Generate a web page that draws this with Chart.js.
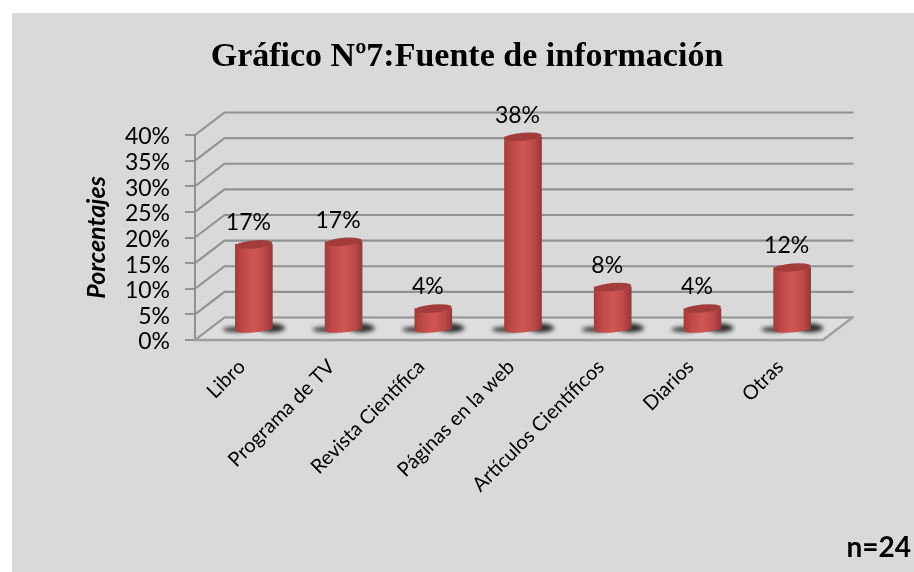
<!DOCTYPE html>
<html>
<head>
<meta charset="utf-8">
<style>
html,body{margin:0;padding:0;background:#fff;width:914px;height:572px;overflow:hidden}
#wrap{position:absolute;left:12px;top:13px;width:902px;height:559px;background:#d9d9d9}
canvas{display:block}
</style>
<script src="https://cdn.jsdelivr.net/npm/chart.js@4/dist/chart.umd.min.js"></script>
</head>
<body>
<div id="wrap"><canvas id="c" width="902" height="559"></canvas></div>
<script>
const categories = ["Libro","Programa de TV","Revista Científica","Páginas en la web","Artículos Científicos","Diarios","Otras"];
const values = [16.7,17.2,4.2,37.7,8.4,4.2,12.2];
const valueLabels = ["17%","17%","4%","38%","8%","4%","12%"];
const chartTitle = "Gráfico Nº7:Fuente de información";
const yTitle = "Porcentajes";
const sampleNote = "n=24";

const FONT = "Lato";
const DEPTH_X = 29.5, DEPTH_Y = 22.5;
const BAR_DX = 14, BAR_DY = 10;

function nudgeLabels(scale, dx, dy) {
  if (scale._nudged) return;
  scale._nudged = true;
  const compute = scale._computeLabelItems.bind(scale);
  scale._computeLabelItems = area => {
    const items = compute(area);
    items.forEach(it => {
      it.options.translation = [it.options.translation[0] + dx, it.options.translation[1] + dy];
    });
    return items;
  };
}

const scene = {
  id: "scene",
  beforeDatasetsDraw(chart) {
    const {ctx, chartArea: a, scales: {x, y}} = chart;
    ctx.save();
    ctx.beginPath();
    ctx.moveTo(a.left, a.bottom);
    ctx.lineTo(a.right, a.bottom);
    ctx.lineTo(a.right + DEPTH_X, a.bottom - DEPTH_Y);
    ctx.lineTo(a.left + DEPTH_X, a.bottom - DEPTH_Y);
    ctx.closePath();
    ctx.fillStyle = "#dedede";
    ctx.fill();
    ctx.lineCap = "round";
    ctx.filter = "blur(0.4px)";
    y.ticks.forEach(t => {
      const py = y.getPixelForValue(t.value);
      ctx.strokeStyle = "#929292";
      ctx.lineWidth = 2.2;
      ctx.beginPath();
      ctx.moveTo(a.left, py);
      ctx.lineTo(a.left + DEPTH_X, py - DEPTH_Y);
      ctx.lineTo(a.right + DEPTH_X, py - DEPTH_Y);
      ctx.stroke();
    });
    ctx.strokeStyle = "#a0a0a0";
    ctx.lineWidth = 2.4;
    ctx.beginPath();
    ctx.moveTo(a.left, a.bottom);
    ctx.lineTo(a.right, a.bottom);
    ctx.lineTo(a.right + DEPTH_X, a.bottom - DEPTH_Y);
    ctx.stroke();
    const meta = chart.getDatasetMeta(0);
    ctx.filter = "blur(2px)";
    ctx.fillStyle = "#2c2c2c";
    meta.data.forEach(el => {
      const cx = el.x + BAR_DX, cy = el.base - BAR_DY;
      ctx.beginPath();
      ctx.ellipse(cx - 18, cy + 0.5, 13, 2.6, 0, 0, Math.PI * 2);
      ctx.ellipse(cx + 18, cy - 1, 13, 4.4, 0, 0, Math.PI * 2);
      ctx.fill();
    });
    ctx.filter = "none";
    ctx.restore();
  },
  beforeDatasetDraw(chart) {
    chart.ctx.save();
    chart.ctx.translate(BAR_DX, -BAR_DY);
  },
  afterDatasetDraw(chart) {
    const ctx = chart.ctx;
    const meta = chart.getDatasetMeta(0);
    const tilt = -5 * Math.PI / 180;
    meta.data.forEach((el, i) => {
      const rx = el.width / 2;
      ctx.fillStyle = el.options.backgroundColor;
      ctx.beginPath();
      ctx.ellipse(el.x, el.base, rx, 3.5, tilt, 0, Math.PI * 2);
      ctx.fill();
      ctx.fillStyle = "#a23d3b";
      ctx.beginPath();
      ctx.ellipse(el.x, el.y, rx, 4, tilt, 0, Math.PI * 2);
      ctx.fill();
    });
    ctx.restore();
    ctx.save();
    ctx.fillStyle = "#000";
    ctx.font = "23px " + FONT;
    ctx.textAlign = "center";
    ctx.textBaseline = "middle";
    meta.data.forEach((el, i) => {
      ctx.fillText(valueLabels[i], el.x + BAR_DX - 5.5, el.y - BAR_DY - 21.5);
    });
    ctx.font = "bold 28px " + FONT;
    ctx.textAlign = "right";
    ctx.fillText(sampleNote, chart.width - 3, chart.height - 24);
    ctx.restore();
  }
};

new Chart(document.getElementById("c"), {
  type: "bar",
  data: {
    labels: categories,
    datasets: [{
      data: values,
      barThickness: 37,
      yAxisID: "y",
      backgroundColor(context) {
        const chart = context.chart;
        if (!chart.chartArea || !chart.scales.x) return "#c94f4c";
        const cx = chart.scales.x.getPixelForValue(context.dataIndex);
        const g = chart.ctx.createLinearGradient(cx - 18.5, 0, cx + 18.5, 0);
        g.addColorStop(0, "#a53c3a");
        g.addColorStop(0.22, "#c04a47");
        g.addColorStop(0.5, "#d15653");
        g.addColorStop(0.8, "#bd4946");
        g.addColorStop(1, "#97373a");
        return g;
      }
    }]
  },
  options: {
    responsive: false,
    animation: false,
    layout: {padding: {left: 8, right: 0, top: 0, bottom: 0}},
    plugins: {
      legend: {display: false},
      tooltip: {enabled: false},
      title: {
        display: true,
        text: chartTitle,
        color: "#000",
        font: {family: "Liberation Serif", size: 34, weight: "bold"},
        padding: {top: 23.6, bottom: 57.6}
      }
    },
    scales: {
      x: {
        grid: {display: false},
        border: {display: false},
        ticks: {
          autoSkip: false, minRotation: 45, maxRotation: 45,
          color: "#000", font: {family: FONT, size: 20}, padding: 7
        },
        afterFit(s) { s.height = 232; nudgeLabels(s, 2, 0); }
      },
      y: {
        min: 0, max: 40,
        grid: {drawOnChartArea: false, drawTicks: true, tickLength: 10, color: "#929292", lineWidth: 2},
        border: {display: true, color: "#929292", width: 2},
        ticks: {
          stepSize: 5, autoSkip: false, padding: 15, color: "#000",
          font: {family: FONT, size: 23},
          callback: v => v + "%"
        },
        title: {
          display: true, text: yTitle, color: "#000",
          font: {family: FONT, size: 25, weight: "bold", style: "italic"},
          padding: {top: 62, bottom: 0}
        },
        afterFit(s) { s.width = 175; nudgeLabels(s, 0, 2); }
      },
      yRight: {
        position: "right",
        min: 0, max: 40,
        grid: {display: false},
        border: {display: false},
        ticks: {display: false},
        afterFit(s) { s.width = 91; }
      }
    }
  },
  plugins: [scene]
});
</script>
</body>
</html>
